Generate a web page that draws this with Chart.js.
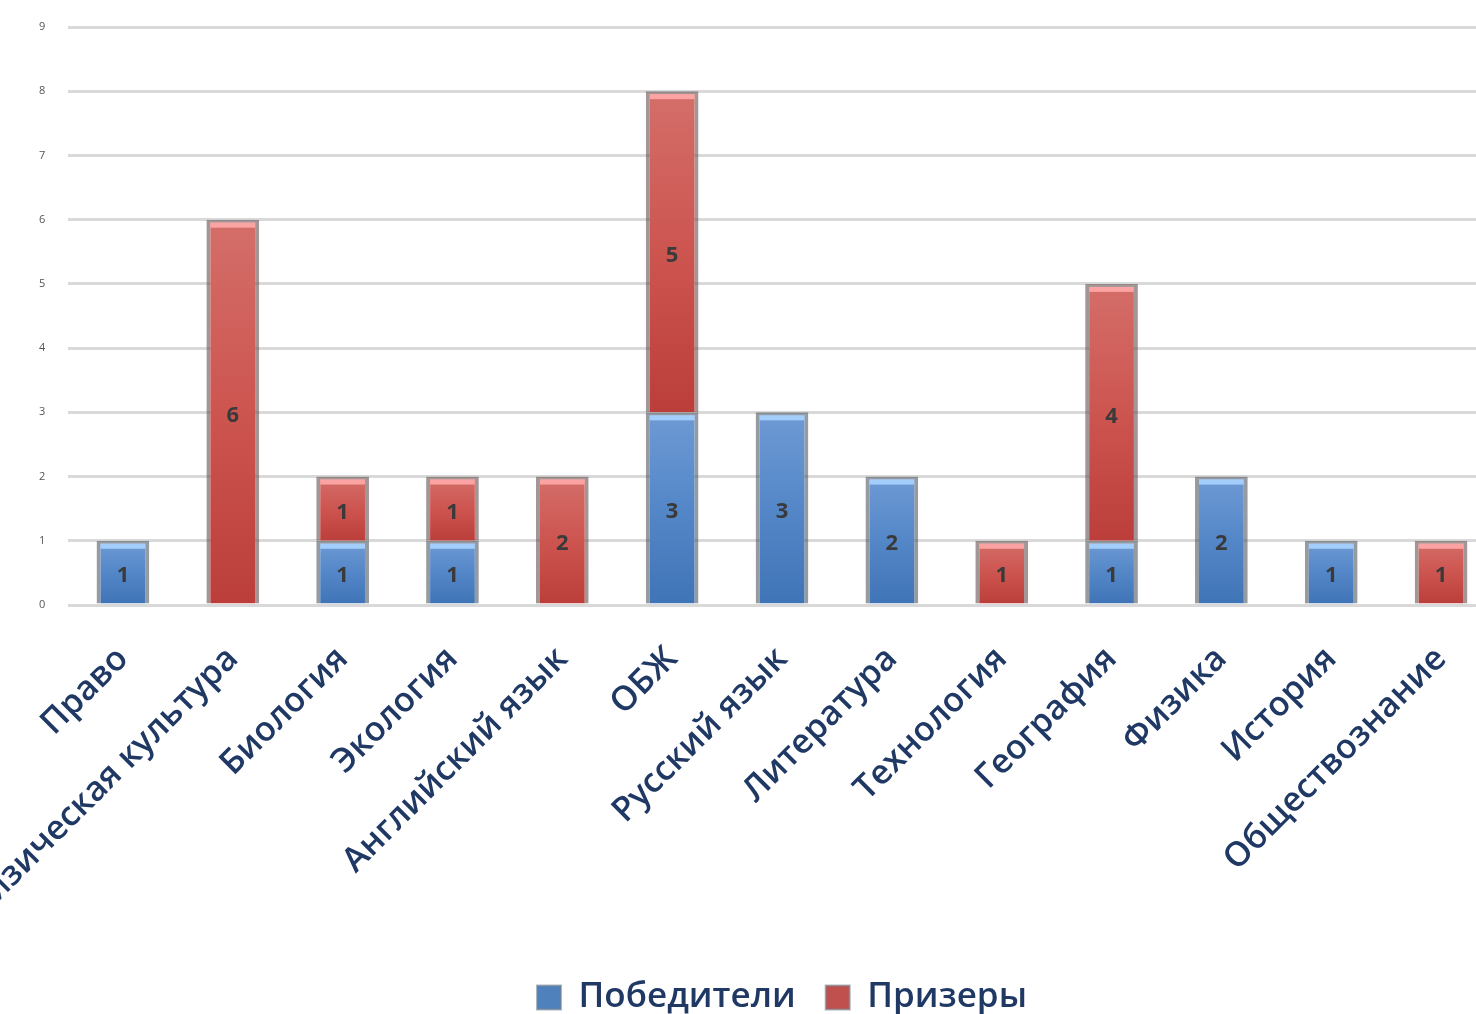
<!DOCTYPE html>
<html><head><meta charset="utf-8">
<script src="https://cdn.jsdelivr.net/npm/chart.js@4.4.1/dist/chart.umd.min.js"></script>
<style>
html,body{margin:0;padding:0;overflow:hidden;background:#fff;width:1476px;height:1014px}
#wrap{position:absolute;left:0;top:0;width:1500px;height:1027px}
</style></head>
<body><div id="wrap"><canvas id="c"></canvas></div>
<script>
const categories = ['Право','Физическая культура','Биология','Экология','Английский язык','ОБЖ','Русский язык','Литература','Технология','География','Физика','История','Обществознание'];
const winners      = [1,0,1,1,0,3,3,2,0,1,2,1,0];
const prizewinners = [0,6,1,1,2,5,0,0,1,4,0,0,1];
const seriesNames  = ['Победители','Призеры'];
const yTickValues  = [0,1,2,3,4,5,6,7,8,9];

const seriesColors = ['#4f81bd', '#c0504d'];
const seriesHighlights = ['rgba(170,212,255,0.9)', 'rgba(255,170,170,0.9)'];

function barFill(top, mid, bottom){
  return (ctx) => {
    const el = ctx.element;
    if (!el || !isFinite(el.y) || !isFinite(el.base) || Math.abs(el.base - el.y) < 1) return mid;
    const g = ctx.chart.ctx.createLinearGradient(0, el.y, 0, el.base);
    g.addColorStop(0, top); g.addColorStop(0.5, mid); g.addColorStop(1, bottom);
    return g;
  };
}

const barDecor = {
  id:'barDecor',
  afterDatasetsDraw(chart){
    const c = chart.ctx;
    c.save();
    chart.data.datasets.forEach((ds, di) => {
      const meta = chart.getDatasetMeta(di);
      meta.data.forEach((el, i) => {
        if (!ds.data[i]) return;
        const w = el.width;
        c.fillStyle = seriesHighlights[di];
        c.fillRect(el.x - w/2 + 4, el.y + 3, w - 8, 5);
      });
    });
    c.font = 'bold 22px "Open Sans"';
    c.fillStyle = '#3a3a3a';
    c.textAlign = 'center'; c.textBaseline = 'middle';
    chart.data.datasets.forEach((ds, di) => {
      const meta = chart.getDatasetMeta(di);
      meta.data.forEach((el, i) => {
        const v = ds.data[i];
        if (!v) return;
        const p = el.getCenterPoint();
        c.fillText(String(v), p.x, p.y + 4);
      });
    });
    c.restore();
  }
};

const chart = new Chart(document.getElementById('c'), {
  type:'bar',
  data:{
    labels: categories,
    datasets:[
      {label: seriesNames[0], data: winners,
       backgroundColor: barFill('#6e9ad4','#5487c8','#3f74b6'),
       borderColor:'rgba(80,88,100,0.6)', borderWidth:{left:4,right:4,top:3,bottom:0}, borderSkipped:'bottom'},
      {label: seriesNames[1], data: prizewinners,
       backgroundColor: barFill('#d46e69','#cd5550','#bb3e3a'),
       borderColor:'rgba(100,80,80,0.6)', borderWidth:{left:4,right:4,top:3,bottom:0}, borderSkipped:'bottom'}
    ]
  },
  options:{
    responsive:true, maintainAspectRatio:false, animation:false,
    datasets:{bar:{categoryPercentage:1, barPercentage:0.48}},
    layout:{padding:{left:68,right:4,top:27,bottom:2}},
    scales:{
      x:{stacked:true,
         grid:{display:false, drawTicks:false}, border:{display:false},
         ticks:{autoSkip:false, minRotation:45, maxRotation:45, padding:34, color:'#1f3864',
                font:{family:'"Open Sans"', size:34, weight:'600'}},
         afterFit(s){ s.height = 345; s.paddingLeft = 0; s.paddingRight = 0; }
      },
      y:{stacked:true, min:0, max:9,
         afterBuildTicks(s){ s.ticks = yTickValues.map(v => ({value:v})); },
         grid:{color:'#d9d9d9', lineWidth:3, drawTicks:false}, border:{display:false},
         ticks:{mirror:true, padding:-29, color:'#555555', font:{family:'"Open Sans"', size:11}},
         afterFit(s){ s.width = 0; }
      }
    },
    plugins:{
      legend:{position:'bottom',
        labels:{boxWidth:24, boxHeight:24, padding:30, color:'#1f3864',
                font:{family:'"Open Sans"', size:35, weight:'600'},
                generateLabels(ch){
                  return Chart.defaults.plugins.legend.labels.generateLabels(ch).map((it, i) => {
                    it.fillStyle = seriesColors[i];
                    it.strokeStyle = 'rgba(120,130,145,0.6)';
                    it.lineWidth = 2;
                    return it;
                  });
                }}},
      tooltip:{enabled:false}
    }
  },
  plugins:[barDecor]
});
chart.update('none');
</script>
</body></html>
